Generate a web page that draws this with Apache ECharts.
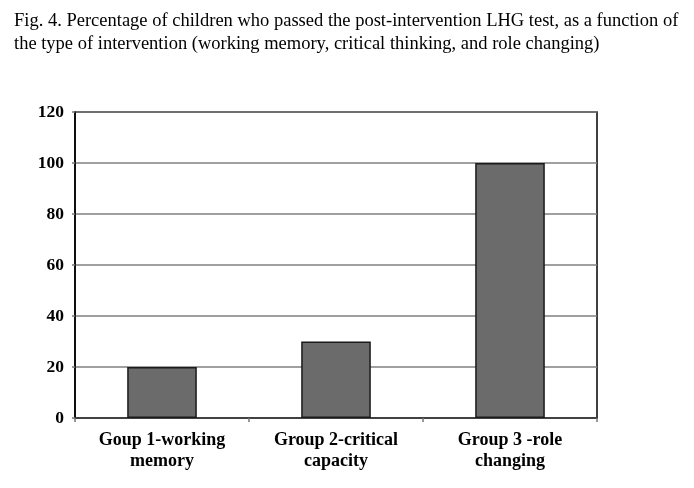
<!DOCTYPE html>
<html>
<head>
<meta charset="utf-8">
<script src="https://cdn.jsdelivr.net/npm/echarts@6/dist/echarts.min.js"></script>
<style>html,body{margin:0;padding:0;background:#fff;}#c{width:694px;height:488px;}</style>
</head>
<body>
<div id="c"></div>
<script>
const titleLines = [
  "Fig. 4. Percentage of children who passed the post-intervention LHG test, as a function of",
  "the type of intervention (working memory, critical thinking, and role changing)"
];
const categories = ["Goup 1-working\nmemory", "Group 2-critical\ncapacity", "Group 3 -role\nchanging"];
const values = [20, 30, 100];
const yTicks = { min: 0, max: 120, interval: 20 };

const chart = echarts.init(document.getElementById('c'), null, { renderer: 'canvas' });
chart.setOption({
  backgroundColor: '#fff',
  animation: false,
  title: {
    text: titleLines.join('\n'),
    left: 14, top: 10, padding: 0,
    textStyle: { fontFamily: 'Liberation Serif', fontSize: 18.5, fontWeight: 'normal', color: '#000', lineHeight: 23 }
  },
  grid: { left: 75, right: 97, top: 112, bottom: 70, show: true, borderColor: '#000', borderWidth: 1.5, backgroundColor: 'transparent' },
  xAxis: {
    type: 'category',
    data: categories,
    axisLine: { lineStyle: { color: '#333', width: 1.5 } },
    axisTick: { show: true, length: 4, lineStyle: { color: '#777', width: 1.5 } },
    axisLabel: { fontFamily: 'Liberation Serif', fontSize: 18, fontWeight: 'bold', color: '#000', lineHeight: 21, margin: 12 }
  },
  yAxis: {
    type: 'value',
    min: yTicks.min, max: yTicks.max, interval: yTicks.interval,
    axisLine: { show: true, lineStyle: { color: '#000', width: 1.5 } },
    axisTick: { show: true, length: 3, lineStyle: { color: '#777', width: 1.5 } },
    axisLabel: { fontFamily: 'Liberation Serif', fontSize: 17.5, fontWeight: 'bold', color: '#000', margin: 11 },
    splitLine: { show: true, lineStyle: { color: '#808080', width: 1.5 } }
  },
  series: [{
    type: 'bar',
    data: values,
    barWidth: '40%',
    itemStyle: { color: '#6b6b6b', borderColor: '#1a1a1a', borderWidth: 1.5 }
  }]
});
</script>
</body>
</html>
